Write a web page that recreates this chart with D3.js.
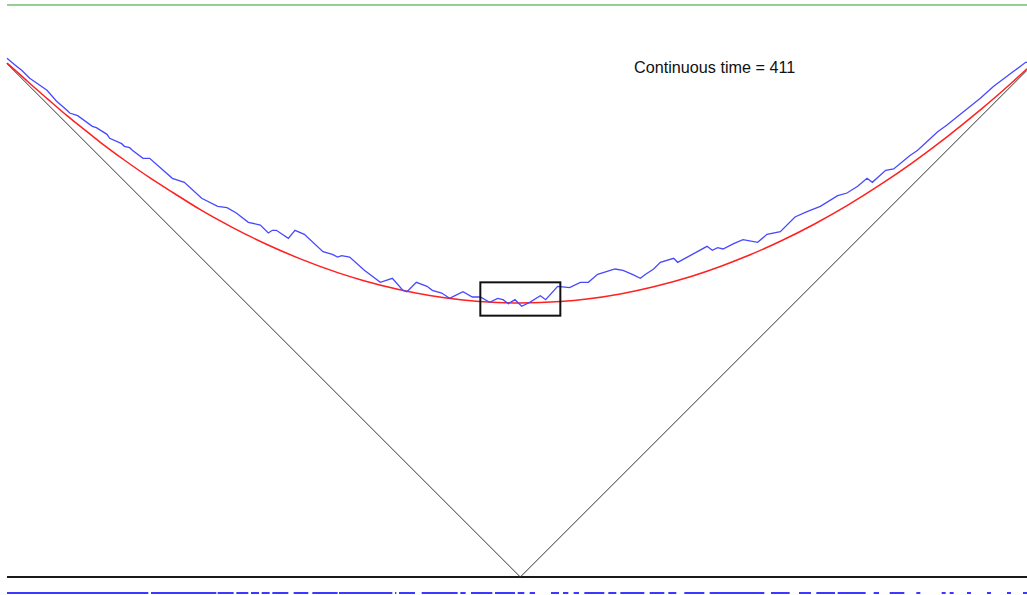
<!DOCTYPE html>
<html><head><meta charset="utf-8">
<script src="https://cdn.jsdelivr.net/npm/d3@7"></script>
<style>html,body{margin:0;padding:0;background:#fff}svg{display:block}</style>
</head><body>
<script>
// ---- data (lattice units) ----
const timeLabel = 411;
const siteDomain = [-385, 380];
const heightDomain = [0, 429];

// random-walk height function (blue)
const walkSites = [-385,-379,-374,-368,-362,-355,-348,-340,-338,-332,-321,-318,-310,-308,-299,-297,-293,-291,-283,-278,-261,-252,-239,-227,-220,-213,-204,-195,-189,-186,-183,-174,-169,-162,-148,-141,-137,-134,-128,-117,-105,-96,-88,-85,-78,-70,-66,-59,-53,-49,-43,-36,-30,-23,-17,-13,-9,-4,1,7,15,19,28,37,45,51,58,71,77,84,90,94,100,105,115,118,129,140,144,148,152,160,167,178,185,195,206,215,225,238,245,253,260,264,274,280,292,298,313,320,330,345,355,371,379,380];
const walkHeights = [389,384,380,374,370,365,357,350,348,346,338,337,332,329,325,323,322,320,314,314,299,296,284,278,277,273,266,264,258,260,260,254,260,257,244,242,240,241,240,230,221,224,215,214,221,218,215,213,209,211,214,210,210,206,209,208,205,208,203,206,211,208,218,217,221,221,227,231,230,227,224,227,231,236,239,236,242,248,245,247,246,250,253,251,257,259,270,274,278,286,288,293,299,296,305,306,316,320,334,339,347,359,368,380,386,386];

// hydrodynamic limit shape (red)
const limitSites = [-385,-371,-354,-340,-330,-315,-296,-278,-260,-240,-215,-190,-165,-137,-118,-92,-68,-43,-17,0,30,50,75,100,128,150,170,195,220,245,270,295,320,345,370,380];
const limitHeights = [385.5,373,358,346,338,326,312,299.5,288,275.5,261.7,249.4,238.6,228.3,222.4,215.8,211.1,207.7,205.9,205.5,206.6,208.5,212.3,217.7,225.4,232.9,240.7,251.8,264.4,278.5,294.2,311.4,330.1,350.3,372,381.2];

// initial condition |x| (black V)
const vSites = [-385, 0, 380];
const vHeights = [385, 0, 380];

// window box
const boxSites = [-30, 30];
const boxHeights = [196, 221];

// occupied runs of the particle configuration (blue dashes)
const particleRuns = [[-385,-279],[-277,-228],[-227,-215],[-213,-204],[-202,-196],[-194,-188],[-186,-174],[-170,-159],[-156,-137],[-136,-130],[-130,-96],[-94,-93],[-91,-79],[-74,-47],[-45,-41],[-37,-21],[-19,-4],[-2,3],[7,11],[23,29],[32,36],[40,44],[48,63],[66,72],[75,93],[97,108],[111,117],[123,138],[142,183],[188,202],[209,218],[222,236],[238,259],[265,269],[277,288],[297,300],[316,319],[322,325],[335,338],[350,353],[365,368],[377,380]];

// ---- drawing ----
const W = 1027, H = 595;
const svg = d3.select("body").append("svg").attr("width", W).attr("height", H);
const x = d3.scaleLinear().domain(siteDomain).range([7, 1027]);
const y = d3.scaleLinear().domain(heightDomain).range([577, 5]);

// top frame line
svg.append("line").attr("x1", x(siteDomain[0])).attr("x2", x(siteDomain[1]))
  .attr("y1", y(heightDomain[1])).attr("y2", y(heightDomain[1]))
  .attr("stroke", "#96cf96").attr("stroke-width", 2);

// baseline
svg.append("line").attr("x1", x(siteDomain[0])).attr("x2", x(siteDomain[1]))
  .attr("y1", y(0)).attr("y2", y(0))
  .attr("stroke", "#1a1a1a").attr("stroke-width", 2);

const line = d3.line().x(d => x(d[0])).y(d => y(d[1]));

// V
svg.append("path").datum(vSites.map((s, i) => [s, vHeights[i]]))
  .attr("d", line).attr("fill", "none").attr("stroke", "#333").attr("stroke-width", 1);

// limit shape
svg.append("path").datum(limitSites.map((s, i) => [s, limitHeights[i]]))
  .attr("d", d3.line().x(d => x(d[0])).y(d => y(d[1])).curve(d3.curveMonotoneX)).attr("fill", "none")
  .attr("stroke", "#ff2020").attr("stroke-width", 1.5);

// random walk
svg.append("path").datum(walkSites.map((s, i) => [s, walkHeights[i]]))
  .attr("d", line).attr("fill", "none")
  .attr("stroke", "#4848ff").attr("stroke-width", 1.3);

// box
svg.append("rect").attr("x", x(boxSites[0])).attr("y", y(boxHeights[1]))
  .attr("width", x(boxSites[1]) - x(boxSites[0])).attr("height", y(boxHeights[0]) - y(boxHeights[1]))
  .attr("fill", "none").attr("stroke", "#111").attr("stroke-width", 2);

// particles strip
svg.append("g").selectAll("line").data(particleRuns).join("line")
  .attr("x1", d => x(d[0])).attr("x2", d => x(d[1]))
  .attr("y1", y(0) + 16).attr("y2", y(0) + 16)
  .attr("stroke", "#3a3aff").attr("stroke-width", 2);

// label
svg.append("text").attr("x", 634).attr("y", 72.5)
  .attr("font-family", "Liberation Sans, Arial, sans-serif").attr("font-size", 16.2)
  .attr("fill", "#111").text("Continuous time = " + timeLabel);
</script>
</body></html>
